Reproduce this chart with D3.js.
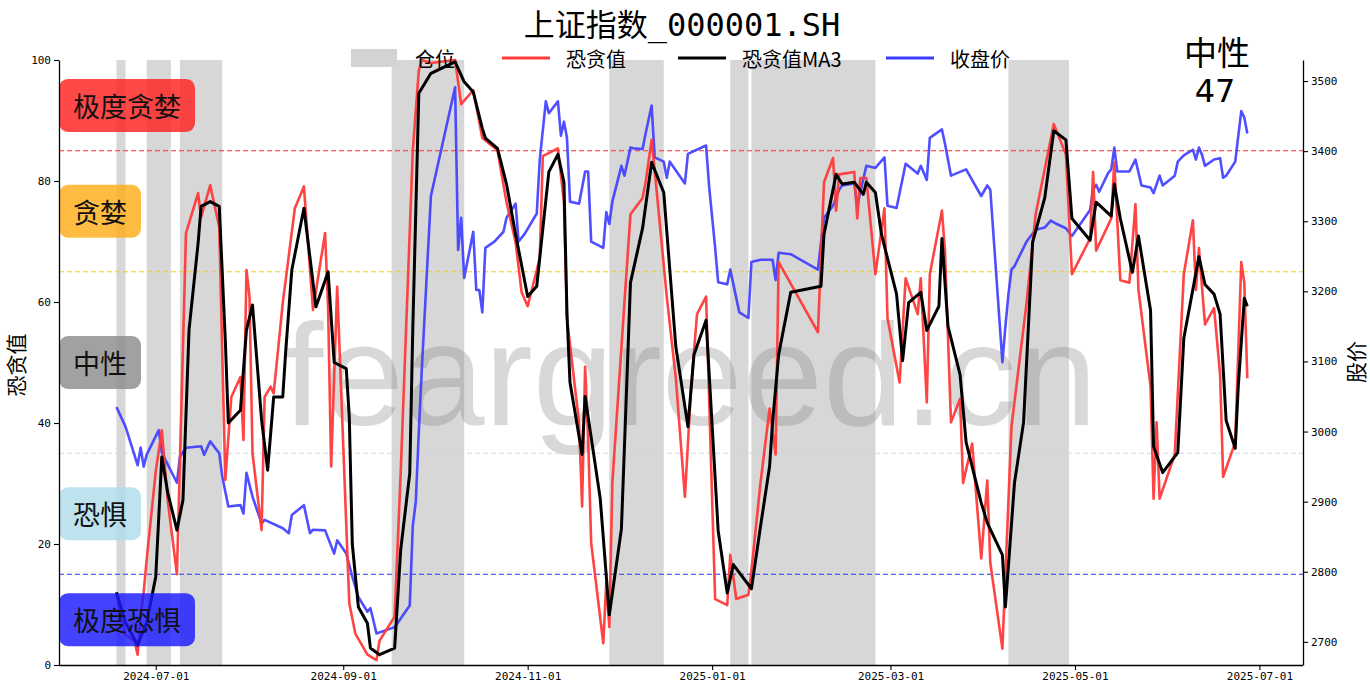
<!DOCTYPE html>
<html><head><meta charset="utf-8">
<script src="https://cdn.jsdelivr.net/npm/d3@7"></script>
<style>
body{margin:0;background:#fff}
svg{display:block}
</style>
</head><body>
<svg id="chart" width="1370" height="686"></svg>
<script>
// ---------------- DATA ----------------
const titleText = "上证指数_000001.SH";
const currentLabel = "中性";
const currentValue = 47;

const xTickLabels = ["2024-07-01","2024-09-01","2024-11-01","2025-01-01","2025-03-01","2025-05-01","2025-07-01"];
const leftTicks = [0,20,40,60,80,100];
const rightTicks = [2700,2800,2900,3000,3100,3200,3300,3400,3500];

const zoneNames = ["极度贪婪","贪婪","中性","恐惧","极度恐惧"];
const zoneCenters = [92.5,75,50,25,7.5];
const levelValues = [85,65,35,15];

const positionSpans = [
 ["2024-06-18","2024-06-21"],["2024-06-28","2024-07-06"],["2024-07-09","2024-07-23"],
 ["2024-09-17","2024-10-11"],["2024-11-28","2024-12-16"],["2025-01-07","2025-01-13"],
 ["2025-01-14","2025-02-24"],["2025-04-09","2025-04-29"]
];

const fearGreed = [
 ["2024-06-18",12],["2024-06-19",9],["2024-06-20",7],["2024-06-21",5],["2024-06-24",4],["2024-06-25",1.7],
 ["2024-06-26",8],["2024-06-27",12],["2024-06-28",17.4],["2024-07-01",32],["2024-07-03",38.8],["2024-07-05",27],
 ["2024-07-08",15],["2024-07-11",71.4],["2024-07-15",78],["2024-07-16",74],["2024-07-19",79.3],["2024-07-22",72.4],
 ["2024-07-24",30.6],["2024-07-26",44.3],["2024-07-29",47.6],["2024-07-30",37.2],["2024-07-31",65.3],["2024-08-01",60.9],
 ["2024-08-02",35],["2024-08-05",22.3],["2024-08-06",44.3],["2024-08-08",46],["2024-08-09",44.9],["2024-08-12",59.8],
 ["2024-08-16",75.5],["2024-08-19",79.1],["2024-08-22",58.7],["2024-08-26",71.4],["2024-08-27",59],["2024-08-28",32.8],
 ["2024-08-30",62.5],["2024-09-03",10.2],["2024-09-05",5.2],["2024-09-09",1.7],["2024-09-12",0.8],["2024-09-13",4],
 ["2024-09-18",8],["2024-09-20",31.7],["2024-09-24",85],["2024-09-26",98.3],["2024-09-27",100],["2024-09-30",99.5],
 ["2024-10-08",100],["2024-10-10",92.7],["2024-10-14",95],["2024-10-17",87.1],["2024-10-22",85.1],["2024-10-25",76.5],
 ["2024-10-28",69.9],["2024-10-30",61.6],["2024-11-01",59.3],["2024-11-05",67.2],["2024-11-06",84.1],["2024-11-11",85.4],
 ["2024-11-13",76.5],["2024-11-14",57.3],["2024-11-18",40],["2024-11-19",26.2],["2024-11-20",49.3],["2024-11-21",37.4],
 ["2024-11-22",20.2],["2024-11-26",3.6],["2024-11-27",13.6],["2024-11-28",6.3],["2024-11-29",30.1],["2024-12-03",59.9],
 ["2024-12-05",74.5],["2024-12-09",77.2],["2024-12-10",79.8],["2024-12-12",86.8],["2024-12-13",81.8],["2024-12-17",60.9],
 ["2024-12-20",47.4],["2024-12-23",27.8],["2024-12-25",45.4],["2024-12-27",58],["2024-12-30",60.9],["2025-01-02",10.9],
 ["2025-01-06",9.9],["2025-01-07",18.2],["2025-01-09",10.9],["2025-01-13",11.6],["2025-01-14",15.6],["2025-01-17",30.1],
 ["2025-01-20",42.4],["2025-01-22",34.8],["2025-01-23",66.6],["2025-02-05",55],["2025-02-07",79.8],["2025-02-10",83.8],
 ["2025-02-11",75.1],["2025-02-12",81.1],["2025-02-17",81.5],["2025-02-18",73.8],["2025-02-19",80.5],["2025-02-21",80.5],
 ["2025-02-24",64.6],["2025-02-27",75.5],["2025-02-28",57.3],["2025-03-04",46.7],["2025-03-06",63.9],["2025-03-10",58],
 ["2025-03-11",63.9],["2025-03-13",43.4],["2025-03-14",64.6],["2025-03-18",75.1],["2025-03-19",68.5],["2025-03-21",40.1],
 ["2025-03-24",44],["2025-03-25",30.1],["2025-03-28",36.6],["2025-03-31",17.6],["2025-04-02",30.5],["2025-04-03",16.9],
 ["2025-04-07",2.7],["2025-04-10",39.4],["2025-04-15",59.9],["2025-04-18",74.5],["2025-04-24",89.4],["2025-04-28",84.4],
 ["2025-04-30",64.6],["2025-05-06",70.5],["2025-05-07",81.5],["2025-05-08",68.5],["2025-05-13",73.8],["2025-05-14",83.1],
 ["2025-05-16",63.6],["2025-05-19",63.2],["2025-05-21",76.2],["2025-05-22",62],["2025-05-26",46],["2025-05-27",27.5],
 ["2025-05-28",40.1],["2025-05-29",27.5],["2025-06-03",34.8],["2025-06-06",64.6],["2025-06-09",73.5],["2025-06-10",62],
 ["2025-06-11",68.9],["2025-06-13",56.3],["2025-06-16",59],["2025-06-18",48],["2025-06-19",31.1],["2025-06-23",36.8],
 ["2025-06-25",66.6],["2025-06-26",63.2],["2025-06-27",47.4]
];

const fearGreedMA3 = [
 ["2024-06-18",12],["2024-06-21",7],["2024-06-25",3.3],["2024-06-28",7],["2024-07-01",14.6],["2024-07-03",34.4],
 ["2024-07-05",28.4],["2024-07-08",22.3],["2024-07-10",27.3],["2024-07-12",55.4],["2024-07-15",69.7],["2024-07-16",75.8],
 ["2024-07-19",76.6],["2024-07-22",75.8],["2024-07-24",53.7],["2024-07-25",40],["2024-07-29",42.1],["2024-07-31",55.4],
 ["2024-08-02",59.5],["2024-08-05",40.5],["2024-08-07",32.2],["2024-08-09",44.3],["2024-08-12",44.3],["2024-08-13",52],
 ["2024-08-15",65.3],["2024-08-19",75.5],["2024-08-23",59.2],["2024-08-27",65],["2024-08-29",50],["2024-09-02",49],
 ["2024-09-03",41],["2024-09-04",20],["2024-09-06",9.6],["2024-09-09",6.9],["2024-09-10",2.8],["2024-09-13",1.7],
 ["2024-09-18",2.8],["2024-09-20",19],["2024-09-23",31.7],["2024-09-24",55.4],["2024-09-26",94.5],["2024-09-30",97.8],
 ["2024-10-08",99.7],["2024-10-11",96.4],["2024-10-14",94.7],["2024-10-17",88.7],["2024-10-18",87.1],["2024-10-22",85.4],
 ["2024-10-25",79.5],["2024-10-28",71.2],["2024-11-01",60.9],["2024-11-04",62.6],["2024-11-08",81.5],["2024-11-11",84.4],
 ["2024-11-13",79.8],["2024-11-14",58],["2024-11-15",46.7],["2024-11-19",34.8],["2024-11-20",44.4],["2024-11-25",27.5],
 ["2024-11-28",8.3],["2024-12-02",22.5],["2024-12-05",63.2],["2024-12-09",72.2],["2024-12-12",83.1],["2024-12-16",78.1],
 ["2024-12-20",52.6],["2024-12-24",39.4],["2024-12-26",51.3],["2024-12-30",57],["2025-01-03",22.2],["2025-01-06",11.9],
 ["2025-01-08",16.6],["2025-01-14",12.6],["2025-01-17",22.9],["2025-01-20",32.8],["2025-01-21",40.1],["2025-01-23",51.3],
 ["2025-01-27",61.6],["2025-02-06",62.6],["2025-02-07",71.2],["2025-02-11",81.1],["2025-02-13",79.5],["2025-02-17",79.8],
 ["2025-02-20",77.8],["2025-02-21",79.8],["2025-02-24",78.1],["2025-02-26",71.2],["2025-03-03",61.3],["2025-03-05",50.3],
 ["2025-03-07",59.9],["2025-03-11",61.6],["2025-03-13",55.3],["2025-03-17",59.3],["2025-03-18",70.5],["2025-03-20",56],
 ["2025-03-24",48],["2025-03-26",36.8],["2025-03-31",26.8],["2025-04-02",23.5],["2025-04-07",18.2],["2025-04-08",9.6],
 ["2025-04-11",30.1],["2025-04-14",40.1],["2025-04-17",69.9],["2025-04-21",77.2],["2025-04-24",88.3],["2025-04-28",86.8],
 ["2025-04-30",73.8],["2025-05-06",70.2],["2025-05-08",76.5],["2025-05-13",74.2],["2025-05-14",79.5],["2025-05-16",73.8],
 ["2025-05-20",64.9],["2025-05-22",70.9],["2025-05-26",58.6],["2025-05-27",36.1],["2025-05-30",31.8],["2025-06-04",35.1],
 ["2025-06-06",54],["2025-06-11",67.5],["2025-06-13",62.9],["2025-06-16",61.3],["2025-06-18",58],["2025-06-20",40.4],
 ["2025-06-23",35.8],["2025-06-24",46],["2025-06-26",60.6],["2025-06-27",59.3]
];

const closePrice = [
 ["2024-06-18",3035],["2024-06-21",3007],["2024-06-25",2952],["2024-06-26",2977],["2024-06-27",2950],["2024-06-28",2967],
 ["2024-07-02",3002],["2024-07-03",2970],["2024-07-08",2927],["2024-07-09",2964],["2024-07-11",2977],["2024-07-16",2979],
 ["2024-07-17",2967],["2024-07-19",2986],["2024-07-22",2969],["2024-07-23",2936],["2024-07-25",2893],["2024-07-29",2895],
 ["2024-07-30",2883],["2024-07-31",2941],["2024-08-02",2907],["2024-08-05",2869],["2024-08-06",2874],["2024-08-12",2862],
 ["2024-08-14",2855],["2024-08-15",2881],["2024-08-19",2895],["2024-08-21",2855],["2024-08-22",2860],["2024-08-26",2859],
 ["2024-08-29",2826],["2024-08-30",2845],["2024-09-02",2826],["2024-09-04",2793],["2024-09-06",2764],["2024-09-09",2743],
 ["2024-09-10",2748],["2024-09-12",2712],["2024-09-18",2721],["2024-09-23",2752],["2024-09-24",2865],["2024-09-25",2900],
 ["2024-09-26",3000],["2024-09-27",3090],["2024-09-30",3336],["2024-10-08",3491],["2024-10-09",3259],["2024-10-10",3305],
 ["2024-10-11",3219],["2024-10-14",3285],["2024-10-15",3202],["2024-10-16",3202],["2024-10-17",3170],["2024-10-18",3262],
 ["2024-10-21",3271],["2024-10-24",3285],["2024-10-25",3305],["2024-10-28",3325],["2024-10-29",3271],["2024-10-31",3282],
 ["2024-11-04",3311],["2024-11-05",3388],["2024-11-07",3471],["2024-11-08",3454],["2024-11-11",3471],["2024-11-12",3422],
 ["2024-11-13",3442],["2024-11-14",3419],["2024-11-15",3328],["2024-11-18",3325],["2024-11-20",3371],["2024-11-21",3371],
 ["2024-11-22",3271],["2024-11-26",3262],["2024-11-27",3313],["2024-11-28",3296],["2024-11-29",3328],["2024-12-02",3379],
 ["2024-12-03",3365],["2024-12-05",3405],["2024-12-06",3404],["2024-12-09",3403],["2024-12-10",3425],["2024-12-11",3445],
 ["2024-12-12",3465],["2024-12-13",3391],["2024-12-16",3385],["2024-12-17",3362],["2024-12-18",3385],["2024-12-23",3354],
 ["2024-12-24",3396],["2024-12-30",3408],["2024-12-31",3350],["2025-01-02",3262],["2025-01-03",3213],["2025-01-06",3210],
 ["2025-01-07",3231],["2025-01-10",3170],["2025-01-13",3162],["2025-01-14",3242],["2025-01-17",3245],["2025-01-21",3245],
 ["2025-01-22",3216],["2025-01-23",3255],["2025-01-27",3253],["2025-02-05",3231],["2025-02-06",3270],["2025-02-07",3305],
 ["2025-02-10",3322],["2025-02-12",3345],["2025-02-13",3351],["2025-02-17",3354],["2025-02-18",3322],["2025-02-21",3379],
 ["2025-02-24",3376],["2025-02-27",3391],["2025-02-28",3322],["2025-03-03",3319],["2025-03-06",3382],["2025-03-10",3368],
 ["2025-03-11",3379],["2025-03-13",3359],["2025-03-14",3419],["2025-03-18",3431],["2025-03-19",3411],["2025-03-21",3365],
 ["2025-03-26",3374],["2025-03-31",3336],["2025-04-02",3351],["2025-04-03",3345],["2025-04-07",3099],["2025-04-08",3150],
 ["2025-04-09",3196],["2025-04-10",3231],["2025-04-11",3236],["2025-04-15",3271],["2025-04-18",3288],["2025-04-21",3291],
 ["2025-04-23",3301],["2025-04-25",3296],["2025-04-28",3290],["2025-04-30",3279],["2025-05-06",3316],["2025-05-07",3345],
 ["2025-05-08",3352],["2025-05-09",3342],["2025-05-12",3369],["2025-05-13",3374],["2025-05-14",3405],["2025-05-15",3371],
 ["2025-05-19",3371],["2025-05-21",3388],["2025-05-23",3351],["2025-05-26",3348],["2025-05-27",3340],["2025-05-29",3365],
 ["2025-05-30",3351],["2025-06-03",3365],["2025-06-04",3385],["2025-06-06",3394],["2025-06-09",3402],["2025-06-10",3388],
 ["2025-06-11",3405],["2025-06-12",3395],["2025-06-13",3379],["2025-06-16",3388],["2025-06-18",3390],["2025-06-19",3362],
 ["2025-06-20",3365],["2025-06-23",3385],["2025-06-25",3457],["2025-06-26",3448],["2025-06-27",3425]
];

// ---------------- CHART ----------------
const CJK = '"Noto Sans CJK SC", "Noto Sans", sans-serif';
const MONO = '"DejaVu Sans Mono", "Liberation Mono", monospace';
const SANS = '"DejaVu Sans", "Liberation Sans", sans-serif';
const ARIAL = '"Liberation Sans", Arial, sans-serif';
const parse = d3.utcParse("%Y-%m-%d");
const svg = d3.select("#chart");
const L = 59, R = 1303, T = 60, B = 665;

const x = d3.scaleUtc()
  .domain([new Date(Date.UTC(2024,4,30)), new Date(Date.UTC(2025,6,15,10))])
  .range([L, R]);
const yL = d3.scaleLinear().domain([0,100]).range([B,T]);
const yR = d3.scaleLinear().domain([2667,3530]).range([B,T]);

// position bands
svg.append("g").selectAll("rect").data(positionSpans).join("rect")
  .attr("x", d => x(parse(d[0])))
  .attr("width", d => x(parse(d[1])) - x(parse(d[0])))
  .attr("y", yL(100)).attr("height", yL(0) - yL(100))
  .attr("fill", "#d3d3d3").attr("opacity", 0.9);

// watermark
svg.append("text").attr("x", 690).attr("y", 425)
  .attr("text-anchor","middle")
  .style("font-family", ARIAL).style("font-size","145px")
  .attr("fill","#808080").attr("opacity",0.3)
  .text("feargreed.cn");

// reference levels
const levelColors = ["#ff3030","#f0d020","#c8d8f0","#3030ff"];
svg.append("g").selectAll("line").data(levelValues).join("line")
  .attr("x1", L).attr("x2", R)
  .attr("y1", d => yL(d)).attr("y2", d => yL(d))
  .attr("stroke", (d,i) => levelColors[i]).attr("stroke-width", 1)
  .attr("stroke-dasharray", "5,3");

// lines
const lineL = d3.line().x(d => x(parse(d[0]))).y(d => yL(d[1]));
const lineR = d3.line().x(d => x(parse(d[0]))).y(d => yR(d[1]));
svg.append("path").datum(closePrice).attr("d", lineR)
  .attr("fill","none").attr("stroke","#3c3cff").attr("stroke-opacity",0.9)
  .attr("stroke-width",2.6).attr("stroke-linejoin","round");
svg.append("path").datum(fearGreed).attr("d", lineL)
  .attr("fill","none").attr("stroke","#ff3a3a").attr("stroke-opacity",0.95)
  .attr("stroke-width",2.6).attr("stroke-linejoin","round");
svg.append("path").datum(fearGreedMA3).attr("d", lineL)
  .attr("fill","none").attr("stroke","#000")
  .attr("stroke-width",3).attr("stroke-linejoin","round");

// zone label boxes
const zoneColors = ["#ff2020","#ffad1a","#8c8c8c","#b0dcea","#1a1aff"];
const zg = svg.append("g").selectAll("g").data(zoneNames).join("g");
zg.each(function(d,i){
  const g = d3.select(this);
  const cy = yL(zoneCenters[i]);
  const t = g.append("text").attr("x", L + 14).attr("y", cy)
    .attr("dominant-baseline","central")
    .style("font-family", CJK).style("font-size","27px").attr("fill","#111").text(d);
  const w = t.node().getComputedTextLength();
  g.insert("rect","text").attr("x", L).attr("y", cy - 26.5)
    .attr("width", w + 28).attr("height", 53).attr("rx", 9)
    .attr("fill", zoneColors[i]).attr("opacity", 0.82);
});

// axes
const axB = svg.append("g").attr("transform",`translate(0,${B})`)
  .call(d3.axisBottom(x).tickValues(xTickLabels.map(parse)).tickFormat(d3.utcFormat("%Y-%m-%d")).tickSize(5).tickSizeOuter(0));
const axL = svg.append("g").attr("transform",`translate(${L},0)`)
  .call(d3.axisLeft(yL).tickValues(leftTicks).tickSize(5).tickSizeOuter(0));
const axR = svg.append("g").attr("transform",`translate(${R},0)`)
  .call(d3.axisRight(yR).tickValues(rightTicks).tickFormat(d3.format("d")).tickSize(5).tickSizeOuter(0));
[axB,axL,axR].forEach(a => {
  a.selectAll("path.domain").attr("stroke","#000").attr("stroke-width",1.3);
  a.selectAll(".tick line").attr("stroke","#000").attr("stroke-width",1.1);
  a.selectAll(".tick text").attr("fill","#000").style("font-family", MONO).style("font-size","11px");
});
axB.selectAll(".tick text").attr("y", 7).attr("dy","0.71em");
axB.select("path.domain").attr("d", `M${L},0.5H${R}`);

// axis titles
svg.append("text").attr("transform",`translate(24,365) rotate(-90)`).attr("text-anchor","middle")
  .style("font-family", CJK).style("font-size","21px").attr("fill","#000").text("恐贪值");
svg.append("text").attr("transform",`translate(1364,362) rotate(-90)`).attr("text-anchor","middle")
  .style("font-family", CJK).style("font-size","21px").attr("fill","#000").text("股价");

// title
const title = svg.append("text").attr("x", 682).attr("y", 36).attr("text-anchor","middle")
  .style("font-family", CJK).style("font-size","31px").attr("fill","#000");
title.append("tspan").text(titleText.slice(0,4));
title.append("tspan").style("font-family", MONO).style("font-size","32px").text(titleText.slice(4));

// current status
svg.append("text").attr("x",1217).attr("y",65).attr("text-anchor","middle")
  .style("font-family", CJK).style("font-size","33px").attr("fill","#000").text(currentLabel);
svg.append("text").attr("x",1215).attr("y",102).attr("text-anchor","middle")
  .style("font-family", SANS).style("font-size","32px").attr("fill","#000").text(currentValue);

// legend
const legendItems = [
  {name:"仓位", type:"rect", color:"#d3d3d3"},
  {name:"恐贪值", type:"line", color:"#ff3a3a"},
  {name:"恐贪值MA3", type:"line", color:"#000"},
  {name:"收盘价", type:"line", color:"#3c3cff"}
];
const legendX = [351, 502, 678, 886];
const lg = svg.append("g");
legendItems.forEach((it,i) => {
  const lx = legendX[i], ly = 58;
  if (it.type === "rect") lg.append("rect").attr("x",lx).attr("y",ly-9).attr("width",46).attr("height",18).attr("fill",it.color);
  else lg.append("line").attr("x1",lx).attr("x2",lx+48).attr("y1",ly).attr("y2",ly).attr("stroke",it.color).attr("stroke-width",3.2);
  lg.append("text").attr("x", lx + 64).attr("y", ly).attr("dominant-baseline","central")
    .style("font-family", CJK).style("font-size","20px").attr("fill","#000").text(it.name);
});
</script>
</body></html>
